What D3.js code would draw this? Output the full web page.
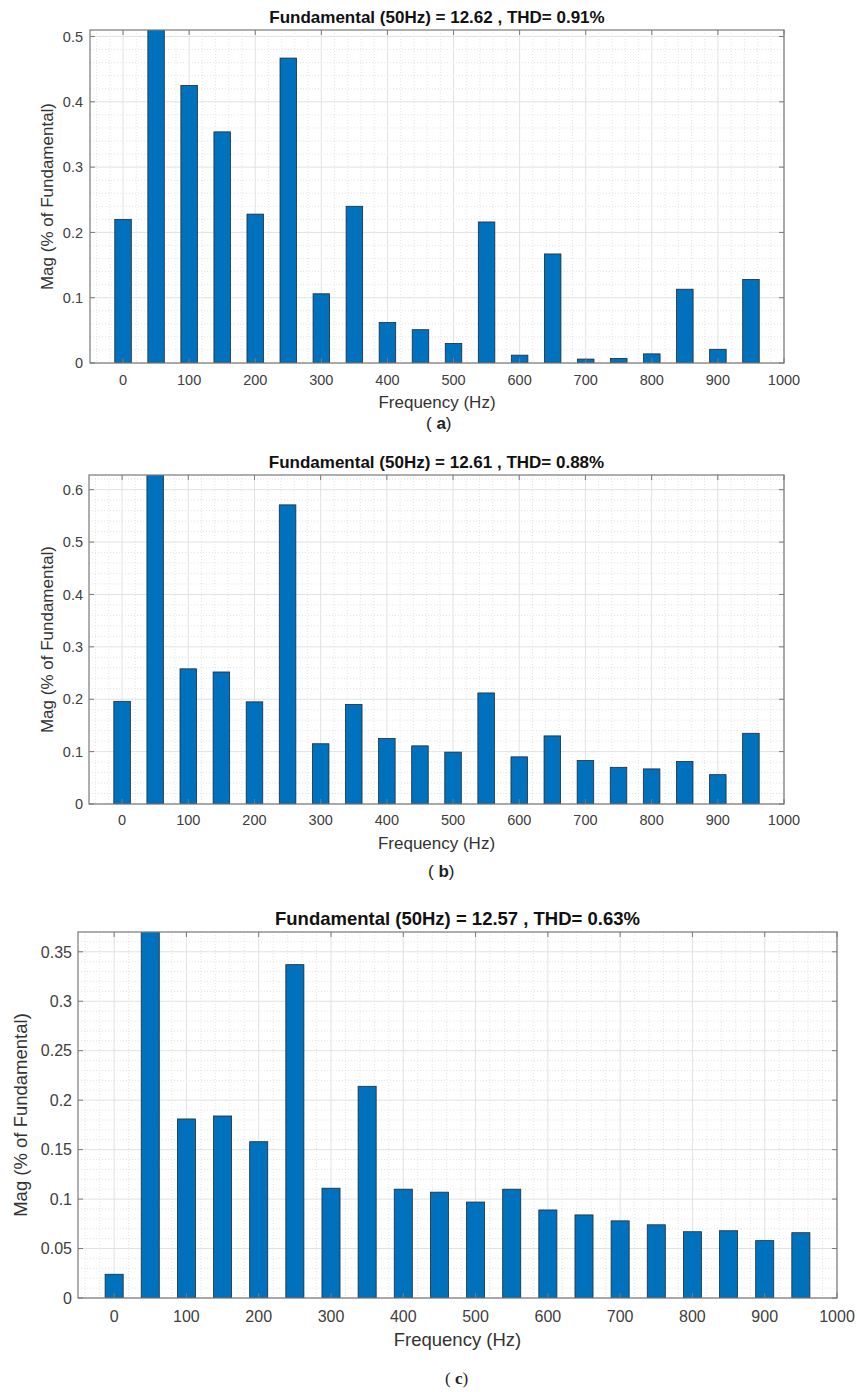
<!DOCTYPE html>
<html>
<head>
<meta charset="utf-8">
<script src="https://cdn.jsdelivr.net/npm/d3@7"></script>
<style>
  body { margin: 0; background: #fff; }
  svg { display: block; }
  text { font-family: "Liberation Sans", Arial, sans-serif; }
</style>
</head>
<body>
<div id="chart"></div>
<script>
// harmonic frequencies (Hz)
const freqs = [0, 50, 100, 150, 200, 250, 300, 350, 400, 450, 500, 550, 600, 650, 700, 750, 800, 850, 900, 950];

// magnitudes, % of fundamental (the 50 Hz bar is the fundamental itself, clipped by the axis)
const magA = [0.220, 100, 0.425, 0.354, 0.228, 0.467, 0.106, 0.240, 0.062, 0.051, 0.030, 0.216, 0.012, 0.167, 0.006, 0.007, 0.014, 0.113, 0.021, 0.128];
const magB = [0.196, 100, 0.258, 0.252, 0.195, 0.571, 0.115, 0.190, 0.125, 0.111, 0.099, 0.212, 0.090, 0.130, 0.083, 0.070, 0.067, 0.081, 0.056, 0.135];
const magC = [0.024, 100, 0.181, 0.184, 0.158, 0.337, 0.111, 0.214, 0.110, 0.107, 0.097, 0.110, 0.089, 0.084, 0.078, 0.074, 0.067, 0.068, 0.058, 0.066];

const titles = [
  "Fundamental (50Hz) = 12.62 , THD= 0.91%",
  "Fundamental (50Hz) = 12.61 , THD= 0.88%",
  "Fundamental (50Hz) = 12.57 , THD= 0.63%"
];
const panelLetters = ["a", "b", "c"];

const xTicks = [0, 100, 200, 300, 400, 500, 600, 700, 800, 900, 1000];
const yTicksA = [0, 0.1, 0.2, 0.3, 0.4, 0.5];
const yTicksB = [0, 0.1, 0.2, 0.3, 0.4, 0.5, 0.6];
const yTicksC = [0, 0.05, 0.1, 0.15, 0.2, 0.25, 0.3, 0.35];
const yLimits = [0.51, 0.628, 0.37];
const xLimits = [-50, 1000];

const width = 857;
const height = 1392;

const svg = d3.select('#chart')
    .append('svg')
    .attr('width', width)
    .attr('height', height);

// layout of each of the three axes
const panels = [
  { data: magA, yTicks: yTicksA, yMax: yLimits[0], left: 90, top: 30, right: 784, bottom: 363,
    tick: 14.5, label: 17, title: 17, titleY: 23, xTickY: 385, xLabelY: 408, yLabelX: 53, yTickX: 83,
    letterX: 426, letterY: 429, minorY: 0.02, letterFont: 'Liberation Sans' },
  { data: magB, yTicks: yTicksB, yMax: yLimits[1], left: 89, top: 475, right: 784, bottom: 804,
    tick: 14.5, label: 17, title: 17, titleY: 468, xTickY: 825, xLabelY: 849, yLabelX: 53, yTickX: 83,
    letterX: 428, letterY: 877, minorY: 0.02, letterFont: 'Liberation Sans' },
  { data: magC, yTicks: yTicksC, yMax: yLimits[2], left: 78, top: 932, right: 837, bottom: 1298,
    tick: 16, label: 18.5, title: 18.5, titleY: 925, xTickY: 1322, xLabelY: 1346, yLabelX: 27, yTickX: 72,
    letterX: 445, letterY: 1384, minorY: 0.01, letterFont: 'Liberation Serif' }
];

panels.forEach((p, i) => {
  const g = svg.append('g');

  const xScale = d3.scaleLinear().domain(xLimits).range([p.left, p.right]);
  const yScale = d3.scaleLinear().domain([0, p.yMax]).range([p.bottom, p.top]);

  // minor grid (dotted)
  const minorX = d3.range(-40, 1001, 20).filter(v => v % 100 !== 0);
  const minorYs = d3.range(0, p.yMax + 1e-9, p.minorY).filter(v => !p.yTicks.some(t => Math.abs(t - v) < 1e-9));
  g.append('g').selectAll('line.mx')
    .data(minorX).enter().append('line')
    .attr('x1', d => xScale(d)).attr('x2', d => xScale(d))
    .attr('y1', p.top).attr('y2', p.bottom)
    .attr('stroke', '#d9d9d9').attr('stroke-width', 0.7).attr('stroke-dasharray', '1,2');
  g.append('g').selectAll('line.my')
    .data(minorYs).enter().append('line')
    .attr('x1', p.left).attr('x2', p.right)
    .attr('y1', d => yScale(d)).attr('y2', d => yScale(d))
    .attr('stroke', '#d9d9d9').attr('stroke-width', 0.7).attr('stroke-dasharray', '1,2');

  // major grid
  g.append('g').selectAll('line')
    .data(xTicks).enter().append('line')
    .attr('x1', d => xScale(d)).attr('x2', d => xScale(d))
    .attr('y1', p.top).attr('y2', p.bottom)
    .attr('stroke', '#e2e2e2').attr('stroke-width', 1);
  g.append('g').selectAll('line')
    .data(p.yTicks).enter().append('line')
    .attr('x1', p.left).attr('x2', p.right)
    .attr('y1', d => yScale(d)).attr('y2', d => yScale(d))
    .attr('stroke', '#e2e2e2').attr('stroke-width', 1);

  // bars, clipped to the axes box
  const clipId = 'clip' + i;
  svg.append('clipPath').attr('id', clipId)
    .append('rect')
    .attr('x', p.left).attr('y', p.top)
    .attr('width', p.right - p.left).attr('height', p.bottom - p.top);

  const barW = xScale(25) - xScale(0);
  g.append('g').attr('clip-path', `url(#${clipId})`)
    .selectAll('rect')
    .data(freqs.map((f, k) => ({ f: f, v: p.data[k] })))
    .enter().append('rect')
    .attr('x', d => xScale(d.f) - barW / 2)
    .attr('y', d => yScale(d.v))
    .attr('width', barW)
    .attr('height', d => p.bottom - yScale(d.v))
    .attr('fill', '#0072BD')
    .attr('stroke', '#1c2a3a')
    .attr('stroke-width', 0.8);

  // box
  g.append('rect')
    .attr('x', p.left).attr('y', p.top)
    .attr('width', p.right - p.left).attr('height', p.bottom - p.top)
    .attr('fill', 'none').attr('stroke', '#7a7a7a').attr('stroke-width', 1.2);

  // inward tick marks on all four sides
  const tl = 5;
  xTicks.forEach(t => {
    g.append('line').attr('x1', xScale(t)).attr('x2', xScale(t))
      .attr('y1', p.bottom).attr('y2', p.bottom - tl).attr('stroke', '#7a7a7a');
    g.append('line').attr('x1', xScale(t)).attr('x2', xScale(t))
      .attr('y1', p.top).attr('y2', p.top + tl).attr('stroke', '#7a7a7a');
  });
  p.yTicks.forEach(t => {
    g.append('line').attr('x1', p.left).attr('x2', p.left + tl)
      .attr('y1', yScale(t)).attr('y2', yScale(t)).attr('stroke', '#7a7a7a');
    g.append('line').attr('x1', p.right).attr('x2', p.right - tl)
      .attr('y1', yScale(t)).attr('y2', yScale(t)).attr('stroke', '#7a7a7a');
  });

  // tick labels
  g.append('g').selectAll('text')
    .data(xTicks).enter().append('text')
    .attr('x', d => xScale(d)).attr('y', p.xTickY)
    .attr('text-anchor', 'middle')
    .attr('font-size', p.tick).attr('fill', '#404040')
    .text(d => d);
  g.append('g').selectAll('text')
    .data(p.yTicks).enter().append('text')
    .attr('x', p.yTickX).attr('y', d => yScale(d) + p.tick * 0.36)
    .attr('text-anchor', 'end')
    .attr('font-size', p.tick).attr('fill', '#404040')
    .text(d => String(d));

  // axis labels and title
  const cx = (p.left + p.right) / 2;
  g.append('text')
    .attr('x', cx).attr('y', p.xLabelY)
    .attr('text-anchor', 'middle')
    .attr('font-size', p.label).attr('fill', '#333')
    .text('Frequency (Hz)');
  g.append('text')
    .attr('transform', `translate(${p.yLabelX},${(p.top + p.bottom) / 2}) rotate(-90)`)
    .attr('text-anchor', 'middle')
    .attr('font-size', p.label).attr('fill', '#333')
    .text('Mag (% of Fundamental)');
  g.append('text')
    .attr('x', cx).attr('y', p.titleY)
    .attr('text-anchor', 'middle')
    .attr('font-size', p.title).attr('font-weight', 'bold').attr('fill', '#111')
    .text(titles[i]);

  // panel letter "( a)"
  const lt = g.append('text')
    .attr('x', p.letterX).attr('y', p.letterY)
    .attr('font-size', 17).attr('fill', '#222')
    .attr('style', `font-family: '${p.letterFont}'`);
  lt.append('tspan').text('( ');
  lt.append('tspan').attr('font-weight', 'bold').text(panelLetters[i]);
  lt.append('tspan').text(')');
});
</script>
</body>
</html>
